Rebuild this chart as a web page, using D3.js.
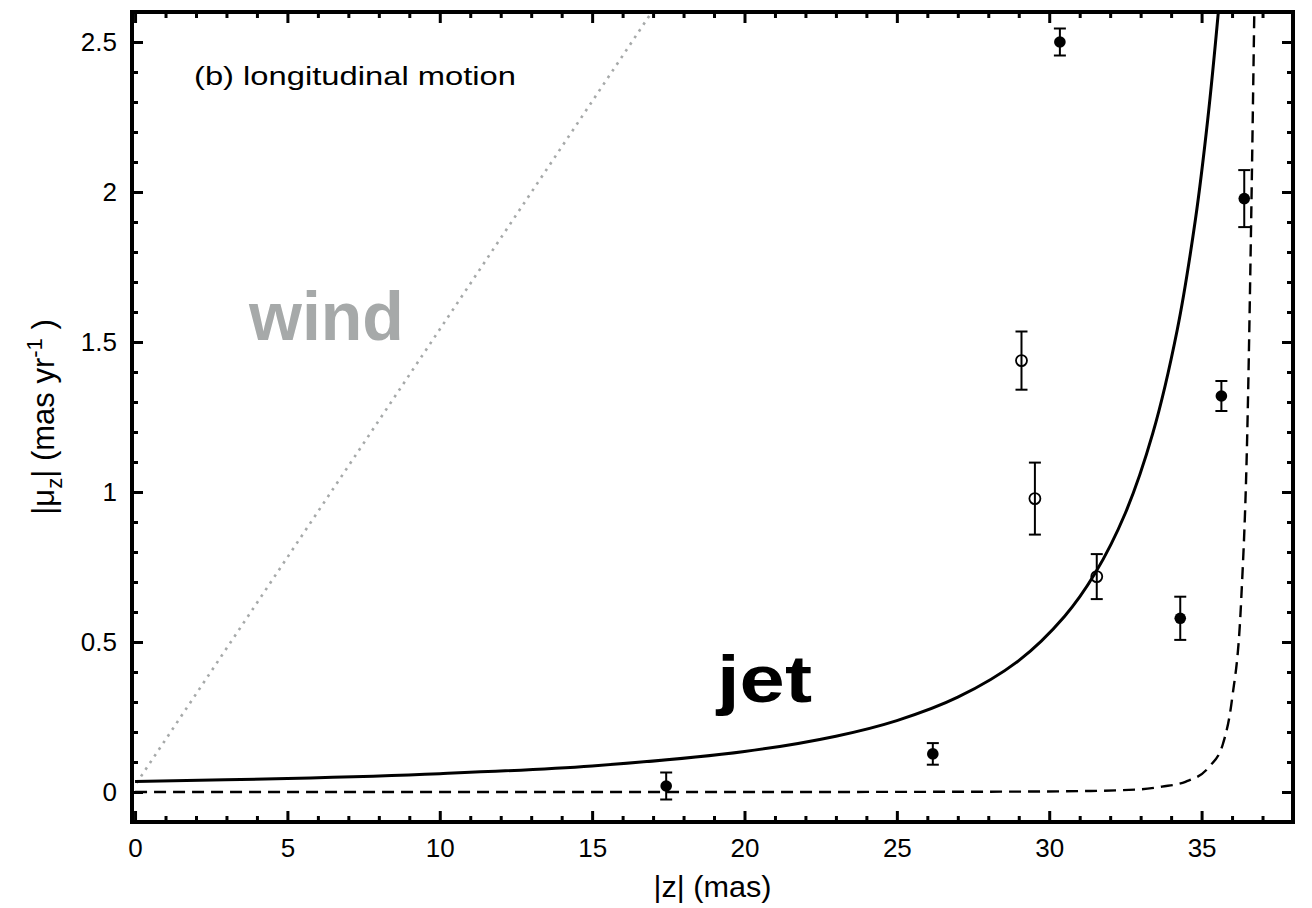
<!DOCTYPE html>
<html>
<head>
<meta charset="utf-8">
<script src="https://cdn.jsdelivr.net/npm/d3@7"></script>
<style>
  body { margin: 0; background: #fff; }
  svg text { font-family: "Liberation Sans", Arial, Helvetica, sans-serif; }
</style>
</head>
<body>
<svg id="chart" width="1312" height="908"></svg>
<script>
// data
// filled points
const filledZ = [17.43, 26.18, 30.35, 34.3, 35.65, 36.4];
const filledMu = [0.02, 0.127, 2.5, 0.579, 1.32, 1.978];
const filledErr = [0.045, 0.036, 0.045, 0.072, 0.05, 0.095];
// open points
const openZ = [29.09, 29.53, 31.56];
const openMu = [1.438, 0.978, 0.718];
const openErr = [0.097, 0.12, 0.075];
// jet model (solid)
const jetZ = [0, 5, 10, 15, 20, 23, 25, 27, 29, 30.5, 31.5, 32.5, 33.4, 34.2, 34.8, 35.2, 35.55, 35.8];
const jetMu = [0.035, 0.045, 0.061, 0.087, 0.135, 0.186, 0.238, 0.316, 0.438, 0.585, 0.728, 0.93, 1.196, 1.54, 1.91, 2.24, 2.6, 2.9];
// dashed model
const dashZ = [0, 10, 20, 28, 31, 33, 33.7, 34.47, 35.25, 35.7, 36.0, 36.3, 36.5, 36.62, 36.73];
const dashMu = [0, 0, 0, 0.001, 0.003, 0.009, 0.018, 0.034, 0.084, 0.16, 0.31, 0.64, 1.2, 1.86, 2.6];
// wind (dotted)
const windZ = [0.05, 16.96];
const windMu = [0.03, 2.6];

const xTicks = [0, 5, 10, 15, 20, 25, 30, 35];
const yTicks = [0, 0.5, 1, 1.5, 2, 2.5];

const W = 1312, H = 908;
const margin = {left: 132, top: 12, right: 19, bottom: 86};

const svg = d3.select("#chart");

const x = d3.scaleLinear().domain([-0.1, 38]).range([margin.left, W - margin.right]);
const y = d3.scaleLinear().domain([-0.1, 2.6]).range([H - margin.bottom, margin.top]);

svg.append("clipPath").attr("id", "clip")
  .append("rect")
  .attr("x", x(-0.1)).attr("y", y(2.6))
  .attr("width", x(38) - x(-0.1)).attr("height", y(-0.1) - y(2.6));

const plot = svg.append("g").attr("clip-path", "url(#clip)");

const line = d3.line().x(d => x(d[0])).y(d => y(d[1])).curve(d3.curveMonotoneX);
const smooth = d3.line().x(d => x(d[0])).y(d => y(d[1])).curve(d3.curveCatmullRom.alpha(0.5));

// wind
plot.append("path")
  .attr("d", d3.line()(windZ.map((z, i) => [x(z), y(windMu[i])])))
  .attr("fill", "none")
  .attr("stroke", "#a6a9a9")
  .attr("stroke-width", 2.6)
  .attr("stroke-dasharray", "2.6,5.4");

// dashed
plot.append("path")
  .attr("d", line(dashZ.map((z, i) => [z, dashMu[i]])))
  .attr("fill", "none")
  .attr("stroke", "#000")
  .attr("stroke-width", 2.4)
  .attr("stroke-dasharray", "12,7");

// jet solid
plot.append("path")
  .attr("d", smooth(jetZ.map((z, i) => [z, jetMu[i]])))
  .attr("fill", "none")
  .attr("stroke", "#000")
  .attr("stroke-width", 3);

// error bars
function errBars(zs, mus, errs) {
  const g = plot.append("g").attr("stroke", "#000").attr("stroke-width", 2);
  zs.forEach((z, i) => {
    const cx = x(z), lo = y(mus[i] - errs[i]), hi = y(mus[i] + errs[i]);
    g.append("line").attr("x1", cx).attr("x2", cx).attr("y1", lo).attr("y2", hi);
    g.append("line").attr("x1", cx - 6).attr("x2", cx + 6).attr("y1", lo).attr("y2", lo);
    g.append("line").attr("x1", cx - 6).attr("x2", cx + 6).attr("y1", hi).attr("y2", hi);
  });
}
errBars(filledZ, filledMu, filledErr);
errBars(openZ, openMu, openErr);

plot.selectAll(".filled")
  .data(filledZ)
  .enter().append("circle")
  .attr("cx", d => x(d))
  .attr("cy", (d, i) => y(filledMu[i]))
  .attr("r", 5.8)
  .attr("fill", "#000");

plot.selectAll(".open")
  .data(openZ)
  .enter().append("circle")
  .attr("cx", d => x(d))
  .attr("cy", (d, i) => y(openMu[i]))
  .attr("r", 5.5)
  .attr("fill", "none")
  .attr("stroke", "#000")
  .attr("stroke-width", 1.8);

// labels in the plot
svg.append("text")
  .attr("x", 194).attr("y", 85)
  .attr("font-size", 26)
  .attr("textLength", 322)
  .attr("lengthAdjust", "spacingAndGlyphs")
  .text("(b) longitudinal motion");

svg.append("text")
  .attr("x", 249).attr("y", 340)
  .attr("font-size", 68)
  .attr("font-weight", "bold")
  .attr("fill", "#a6a9a9")
  .text("wind");

svg.append("text")
  .attr("x", 717).attr("y", 702)
  .attr("font-size", 66)
  .attr("font-weight", "bold")
  .attr("fill", "#000")
  .attr("textLength", 95)
  .attr("lengthAdjust", "spacingAndGlyphs")
  .text("jet");

// axes, ticks inward on all four sides
const pBottom = H - margin.bottom, pLeft = margin.left;
const pTop = margin.top, pRight = W - margin.right;
const xMinor = d3.range(0, 39, 1).filter(v => v % 5 != 0);
const yMinor = d3.range(-1, 27, 1).map(v => v / 10).filter(v => Math.round(v * 10) % 5 != 0);

function styleAxis(g) {
  g.select(".domain").remove();
  g.selectAll(".tick line").attr("stroke", "#000").attr("stroke-width", 3);
  g.selectAll(".tick text").attr("font-size", 26).attr("fill", "#000")
    .attr("font-family", "'Liberation Sans', Arial, sans-serif");
}

svg.append("g").attr("transform", `translate(0,${pBottom})`)
  .call(d3.axisBottom(x).tickValues(xTicks).tickSize(-11).tickPadding(17).tickFormat(d3.format("d")))
  .call(styleAxis);
svg.append("g").attr("transform", `translate(0,${pBottom})`)
  .call(d3.axisBottom(x).tickValues(xMinor).tickSize(-6).tickFormat(""))
  .call(styleAxis);
svg.append("g").attr("transform", `translate(0,${pTop})`)
  .call(d3.axisTop(x).tickValues(xTicks).tickSize(-11).tickFormat(""))
  .call(styleAxis);
svg.append("g").attr("transform", `translate(0,${pTop})`)
  .call(d3.axisTop(x).tickValues(xMinor).tickSize(-6).tickFormat(""))
  .call(styleAxis);

svg.append("g").attr("transform", `translate(${pLeft},0)`)
  .call(d3.axisLeft(y).tickValues(yTicks).tickSize(-11).tickPadding(15).tickFormat(d => d3.format("")(d)))
  .call(styleAxis);
svg.append("g").attr("transform", `translate(${pLeft},0)`)
  .call(d3.axisLeft(y).tickValues(yMinor).tickSize(-6).tickFormat(""))
  .call(styleAxis);
svg.append("g").attr("transform", `translate(${pRight},0)`)
  .call(d3.axisRight(y).tickValues(yTicks).tickSize(-11).tickFormat(""))
  .call(styleAxis);
svg.append("g").attr("transform", `translate(${pRight},0)`)
  .call(d3.axisRight(y).tickValues(yMinor).tickSize(-6).tickFormat(""))
  .call(styleAxis);

// frame
svg.append("rect")
  .attr("x", pLeft).attr("y", pTop)
  .attr("width", pRight - pLeft).attr("height", pBottom - pTop)
  .attr("fill", "none")
  .attr("stroke", "#000")
  .attr("stroke-width", 4);

// axis titles
svg.append("text")
  .attr("x", (pLeft + pRight) / 2).attr("y", 897)
  .attr("text-anchor", "middle")
  .attr("font-size", 29)
  .attr("textLength", 118)
  .attr("lengthAdjust", "spacingAndGlyphs")
  .text("|z| (mas)");

const yt = svg.append("text")
  .attr("transform", `translate(54,${(pTop + pBottom) / 2}) rotate(-90)`)
  .attr("text-anchor", "middle")
  .attr("font-size", 31);
yt.append("tspan").text("|μ");
yt.append("tspan").attr("font-size", 22).attr("dy", 8).text("z");
yt.append("tspan").attr("dy", -8).text("| (mas yr");
yt.append("tspan").attr("font-size", 22).attr("dy", -12).text("-1");
yt.append("tspan").attr("dy", 12).text(" )");
</script>
</body>
</html>
